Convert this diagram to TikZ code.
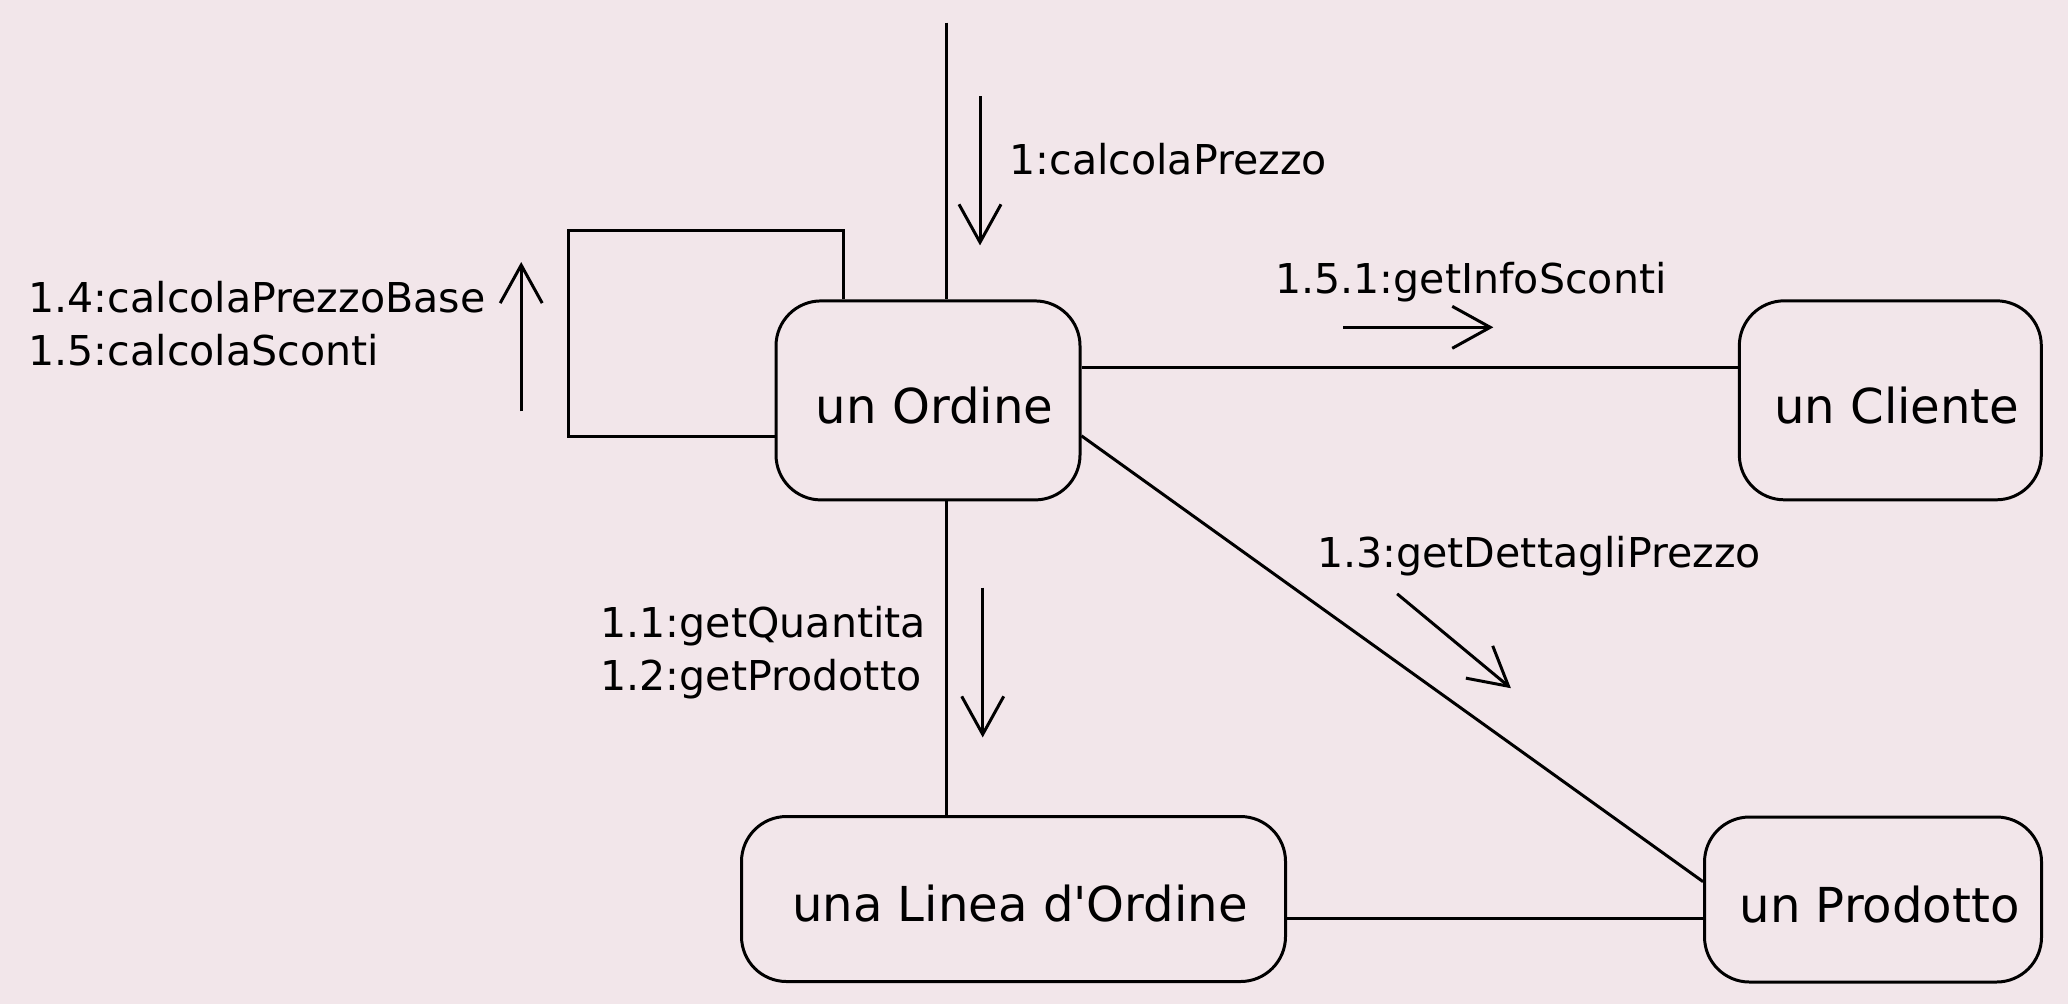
\documentclass[tikz,border=0pt]{standalone}
\usepackage{fontspec}
\setmainfont{DejaVu Sans}
\usetikzlibrary{arrows.meta}
\definecolor{bgpink}{RGB}{242,230,234}

\begin{document}
\begin{tikzpicture}[line width=0.85pt,
	>={Straight Barb[length=3.8mm,width=4.2mm]},
	obj/.style={draw, rectangle, rounded corners=4.5mm, inner sep=0pt,
		font=\fontsize{13.7}{16}\selectfont, text height=13pt, text depth=0pt,
		execute at begin node=\hspace*{1.3mm}},
	lbl/.style={inner sep=0pt, font=\fontsize{11.7}{15}\selectfont, align=left}]
	% background
	\fill[bgpink] (0,0) rectangle (20.68,-10.04);
	\useasboundingbox (0,0) rectangle (20.68,-10.04);
	% objects
	\node[obj, minimum width=3.04cm, minimum height=1.99cm] (ordine) at (9.28,-4.004) {un Ordine};
	\node[obj, minimum width=3.02cm, minimum height=1.99cm] (cliente) at (18.903,-4.003) {un Cliente};
	\node[obj, minimum width=5.44cm, minimum height=1.65cm] (linea) at (10.135,-8.99) {una Linea d\textquotesingle Ordine};
	\node[obj, minimum width=3.37cm, minimum height=1.65cm] (prodotto) at (18.73,-8.995) {un Prodotto};
	% links
	\coordinate (start) at (9.465,-0.226);
	\coordinate (loopTR) at (8.432,-2.305);
	\coordinate (loopTL) at (5.682,-2.305);
	\coordinate (loopBL) at (5.682,-4.365);
	\coordinate (linkC) at (0,-3.672);
	\coordinate (linkP) at (0,-9.18);
	\draw (start) -- (start |- ordine.north);
	\draw (loopTR |- ordine.north) -- (loopTR) -- (loopTL) -- (loopBL) -- (ordine.west |- loopBL);
	\draw (ordine.east |- linkC) -- (cliente.west |- linkC);
	\draw (ordine.-13.3) -- (prodotto.174.7);
	\draw (start |- ordine.south) -- (start |- linea.north);
	\draw (linea.east |- linkP) -- (prodotto.west |- linkP);
	% messages
	\coordinate (m1a) at (9.80,-0.962);   \coordinate (m1b) at (9.80,-2.454);
	\coordinate (m14a) at (5.212,-4.113); \coordinate (m14b) at (5.212,-2.62);
	\coordinate (m151a) at (13.433,-3.273); \coordinate (m151b) at (14.933,-3.273);
	\coordinate (m13a) at (13.971,-5.938); \coordinate (m13b) at (15.109,-6.882);
	\coordinate (m11a) at (9.827,-5.876); \coordinate (m11b) at (9.827,-7.374);
	\draw[->] (m1a) -- (m1b);
	\draw[->] (m14a) -- (m14b);
	\draw[->] (m151a) -- (m151b);
	\draw[->] (m13a) -- (m13b);
	\draw[->] (m11a) -- (m11b);
	% labels
	\node[lbl, anchor=base west] (lcalc) at (10.08,-1.74) {1:calcolaPrezzo};
	\node[lbl, anchor=west] (lbase) at (0.271,-3.24) {1.4:calcolaPrezzoBase\\1.5:calcolaSconti};
	\node[lbl, anchor=base west] (linfo) at (12.738,-2.937) {1.5.1:getInfoSconti};
	\node[lbl, anchor=base west] (ldett) at (13.157,-5.672) {1.3:getDettagliPrezzo};
	\node[lbl, anchor=west] (lqta) at (5.991,-6.523) {1.1:getQuantita\\1.2:getProdotto};
\end{tikzpicture}
\end{document}
